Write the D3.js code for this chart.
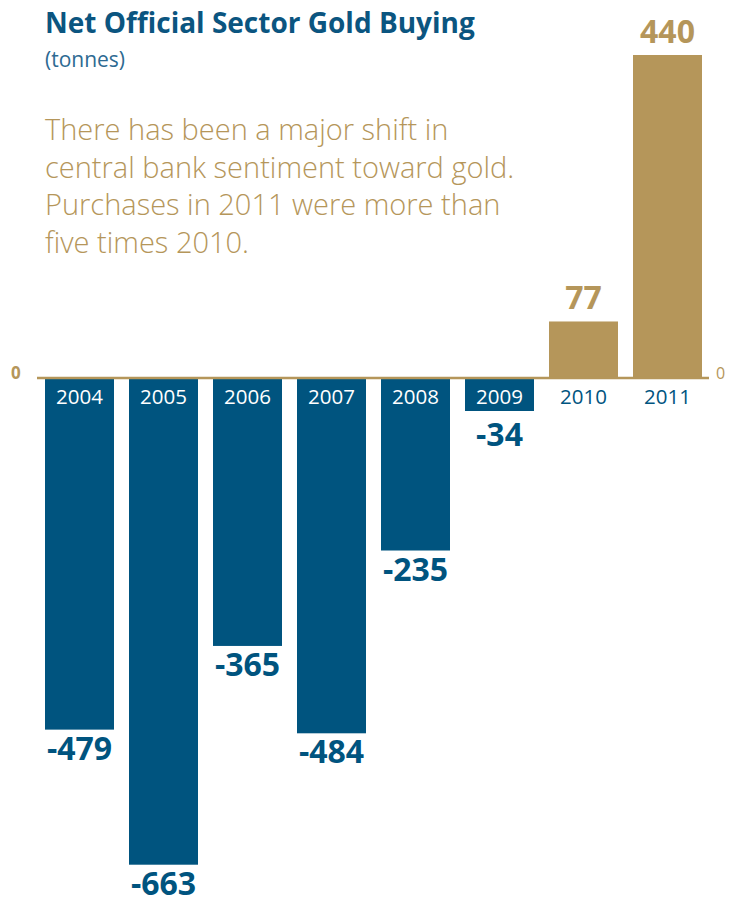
<!DOCTYPE html>
<meta charset="utf-8">
<style>
body{margin:0;background:#fff;}
svg text{font-family:"Open Sans","Noto Sans",sans-serif;}
</style>
<svg id="chart" width="729" height="903"></svg>
<script src="https://d3js.org/d3.v7.min.js"></script>
<script>
// net official sector gold buying, tonnes
const years = ['2004','2005','2006','2007','2008','2009','2010','2011']
const tonnes = [-479,-663,-365,-484,-235,-34,77,440]
const note = ['There has been a major shift in','central bank sentiment toward gold.','Purchases in 2011 were more than','five times 2010.']

const BLUE = '#00547f', GOLD = '#b5965a'
const svg = d3.select('#chart')

const x = d3.scaleBand().domain(years).range([45, 702]).paddingInner(15/84).paddingOuter(0)
const y = d3.scaleLinear().domain([0, 440]).range([378, 55])

svg.append('text').attr('x',45).attr('y',33).attr('fill','#0b5580')
  .style('font-weight',700).style('font-size','28px').text('Net Official Sector Gold Buying')
svg.append('text').attr('x',45).attr('y',67).attr('fill','#2d6a92')
  .style('font-weight',400).style('font-size','21px').text('(tonnes)')
svg.selectAll('text.note').data(note).enter().append('text')
  .attr('class','note').attr('x',45).attr('y',(d,i)=>140+i*37.7)
  .attr('fill',GOLD).style('font-weight',300).style('font-size','29px')
  .text(d=>d)

// bars (negative bars kept deep enough to hold the year label)
const minDepth = 33
const depth = d => Math.max(y(d)-y(0), minDepth)
svg.selectAll('rect.bar').data(tonnes).enter().append('rect')
  .attr('class','bar')
  .attr('x',(d,i)=>x(years[i]))
  .attr('width',x.bandwidth())
  .attr('y',d=>d>=0 ? y(d) : y(0))
  .attr('height',d=>d>=0 ? y(0)-y(d) : depth(d))
  .attr('fill',d=>d>=0 ? GOLD : BLUE)

// zero line
svg.append('line').attr('x1',37).attr('x2',709).attr('y1',y(0)).attr('y2',y(0))
  .attr('stroke',GOLD).attr('stroke-width',2.5)
svg.append('text').attr('x',11).attr('y',y(0)+1).attr('fill',GOLD)
  .style('font-weight',700).style('font-size','17px').text('0')
svg.append('text').attr('x',716).attr('y',y(0)+1).attr('fill',GOLD)
  .style('font-weight',400).style('font-size','16px').text('0')

// year labels
svg.selectAll('text.yr').data(years).enter().append('text')
  .attr('class','yr')
  .attr('x',d=>x(d)+x.bandwidth()/2)
  .attr('y',y(0)+26)
  .attr('text-anchor','middle')
  .attr('fill',(d,i)=>tonnes[i]<0 ? '#fff' : BLUE)
  .style('font-weight',400).style('font-size','20.5px')
  .text(d=>d)

// value labels
svg.selectAll('text.val').data(tonnes).enter().append('text')
  .attr('class','val')
  .attr('x',(d,i)=>x(years[i])+x.bandwidth()/2)
  .attr('y',d=>d>=0 ? y(d)-12 : y(0)+depth(d)+(depth(d)===minDepth ? 35 : 30))
  .attr('text-anchor','middle')
  .attr('fill',d=>d>=0 ? GOLD : BLUE)
  .style('font-weight',700).style('font-size','32px')
  .text(d=>d)
</script>
